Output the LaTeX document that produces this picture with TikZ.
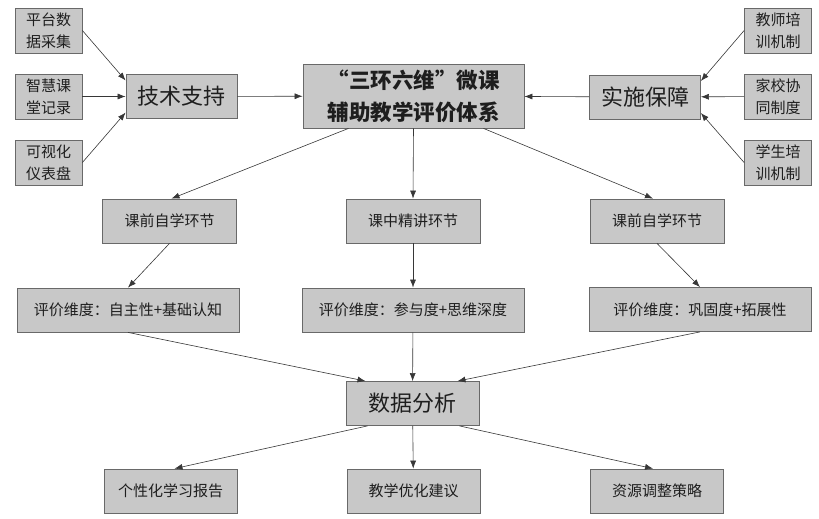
\documentclass[tikz,border=0pt]{standalone}
\usepackage{fontspec}
\setmainfont{Noto Sans CJK SC}
\usetikzlibrary{arrows.meta}
\definecolor{boxgray}{RGB}{200,200,200}
\definecolor{edgegray}{RGB}{105,105,105}
\definecolor{linegray}{RGB}{55,55,55}
\definecolor{textgray}{RGB}{30,30,30}

\begin{document}
\begin{tikzpicture}[x=1pt, y=-1pt,
    box/.style={draw=edgegray, fill=boxgray, line width=0.8pt, inner sep=0pt, align=center, text=textgray},
    smallbox/.style={box, minimum width=67pt, minimum height=45pt, font=\fontsize{15}{22}\selectfont},
    pillarbox/.style={box, minimum width=111pt, minimum height=44pt, font=\fontsize{22}{26}\selectfont},
    stagebox/.style={box, minimum width=134pt, minimum height=44pt, font=\fontsize{15}{18}\selectfont},
    dimbox/.style={box, minimum width=222pt, minimum height=44pt, font=\fontsize{15}{18}\selectfont},
    link/.style={draw=linegray, line width=0.6pt, -{Latex[length=8pt, width=6pt]}}]
    \useasboundingbox (0,0) rectangle (819,519);

    % Core System
    \node[box, minimum width=221pt, minimum height=64pt, font=\fontsize{21.5}{32}\selectfont\bfseries] (core) at (413.5,96) {“三环六维”微课\\辅助教学评价体系};

    % Technical Support
    \node[pillarbox] (tech) at (181.5,96.5) {技术支持};
    \node[smallbox] (collect) at (48.5,30.5) {平台数\\据采集};
    \node[smallbox] (record) at (48.5,96.5) {智慧课\\堂记录};
    \node[smallbox] (dashboard) at (48.5,162.5) {可视化\\仪表盘};

    % Implementation Guarantee
    \node[pillarbox] (guarantee) at (645,97) {实施保障};
    \node[smallbox] (teacher) at (778,30.5) {教师培\\训机制};
    \node[smallbox] (homeschool) at (778,96.5) {家校协\\同制度};
    \node[smallbox] (student) at (778,162.5) {学生培\\训机制};

    % Teaching Stages
    \node[stagebox] (prestudy) at (169.5,221) {课前自学环节};
    \node[stagebox] (lecture) at (413,221) {课中精讲环节};
    \node[stagebox] (review) at (657,221) {课前自学环节};

    % Evaluation Dimensions
    \node[dimbox] (dimpre) at (128,310) {评价维度：自主性+基础认知};
    \node[dimbox] (dimlecture) at (413,310) {评价维度：参与度+思维深度};
    \node[dimbox] (dimreview) at (700,309.5) {评价维度：巩固度+拓展性};

    % Data Analysis
    \node[pillarbox, minimum width=133pt] (analysis) at (412.5,403.5) {数据分析};

    % Outputs
    \node[stagebox, minimum width=133pt] (report) at (170.5,491) {个性化学习报告};
    \node[stagebox, minimum width=133pt] (advice) at (413.5,491) {教学优化建议};
    \node[stagebox, minimum width=133pt] (resource) at (657,491) {资源调整策略};

    % Connections
    \draw[link] (collect.east) -- (tech.164);
    \draw[link] (record) -- (tech);
    \draw[link] (dashboard.east) -- (tech.196);
    \draw[link] (teacher.west) -- (guarantee.16);
    \draw[link] (homeschool) -- (guarantee);
    \draw[link] (student.west) -- (guarantee.-16);
    \draw[link] (tech) -- (core);
    \draw[link] (guarantee) -- (core);

    \draw[link] ([xshift=-65pt]core.south) -- ([xshift=2pt]prestudy.north);
    \draw[link] (core.south) -- (lecture.north);
    \draw[link] ([xshift=70pt]core.south) -- ([xshift=-4pt]review.north);

    \draw[link] (prestudy.south) -- (dimpre.north);
    \draw[link] (lecture) -- (dimlecture);
    \draw[link] (review.south) -- (dimreview.north);

    \draw[link] (dimpre.south) -- ([xshift=-47pt]analysis.north);
    \draw[link] (dimlecture) -- (analysis);
    \draw[link] (dimreview.south) -- ([xshift=45pt]analysis.north);

    \draw[link] ([xshift=-45pt]analysis.south) -- ([xshift=4pt]report.north);
    \draw[link] (analysis) -- (advice);
    \draw[link] ([xshift=47pt]analysis.south) -- ([xshift=-4pt]resource.north);
\end{tikzpicture}
\end{document}
